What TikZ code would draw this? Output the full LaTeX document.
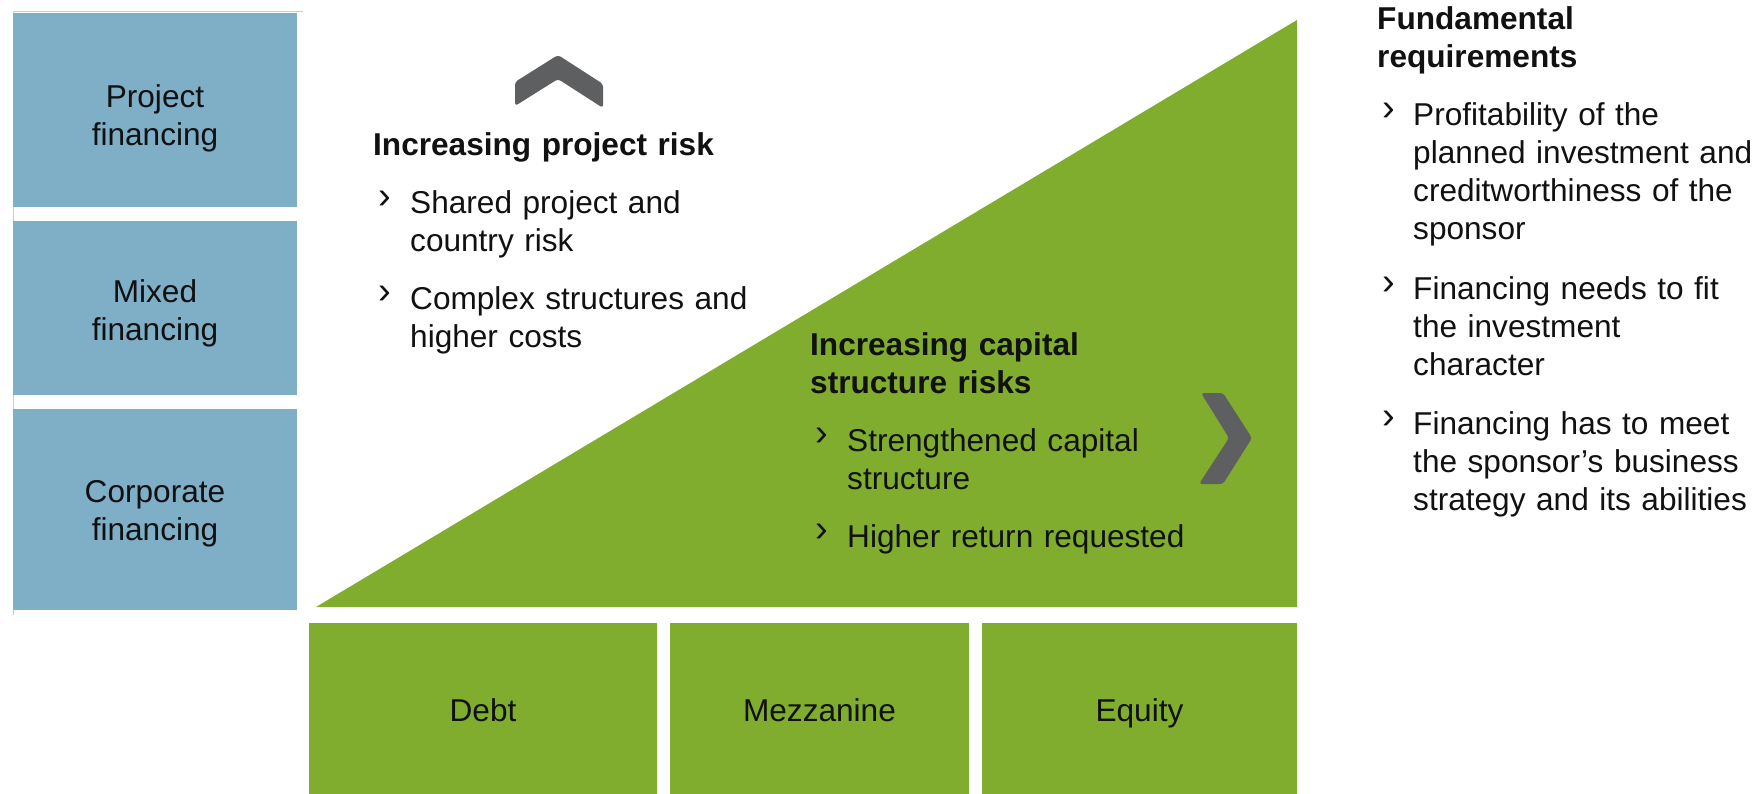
\documentclass[tikz,border=0pt]{standalone}
\usepackage{fontspec}
\setmainfont{Liberation Sans}
\definecolor{bluebox}{HTML}{7FAEC7}
\definecolor{bluefr}{HTML}{B9D2DF}
\definecolor{greenbox}{HTML}{80AD2D}
\definecolor{chev}{HTML}{5E5F61}
\definecolor{txt}{HTML}{111111}
\newcommand{\bmark}{\raisebox{5.5pt}{\fontsize{38}{38}\selectfont ›}}
\tikzset{
  every node/.style={text=txt, font=\fontsize{31.6}{38}\selectfont},
  bluecell/.style={fill=bluebox, draw=none, inner sep=0pt},
  greencell/.style={fill=greenbox, draw=none, inner sep=0pt},
  celllabel/.style={anchor=base, inner sep=0pt, align=center, text width=#1},
  txtblock/.style={anchor=base west, inner sep=0pt, align=left, text width=#1},
  bul/.style={anchor=base west, inner sep=0pt},
  headblock/.style={anchor=base west, inner sep=0pt, align=left, text width=#1,
    font=\fontsize{31.6}{38}\selectfont\bfseries},
  chevron/.style={fill=chev, rounded corners=3pt},
  framel/.style={draw=bluefr, line width=1pt},
}
\begin{document}
\begin{tikzpicture}[x=1pt, y=-1pt]
\useasboundingbox (0,0) rectangle (1756,794);
\fill[white] (0,0) rectangle (1756,794);

% left frame line
\coordinate (frA) at (303,12);
\coordinate (frB) at (13,12);
\coordinate (frC) at (13,615);
\draw[framel] (frA) -- (frB) -- (frC);

% blue boxes
\node[bluecell, minimum width=284pt, minimum height=194pt] (pf) at (155,110) {};
\node[bluecell, minimum width=284pt, minimum height=174pt] (mf) at (155,308) {};
\node[bluecell, minimum width=284pt, minimum height=201pt] (cf) at (155,509.5) {};
\node[celllabel=284pt] (pfl) at (155,108) {Project\\financing};
\node[celllabel=284pt] (mfl) at (155,302) {Mixed\\financing};
\node[celllabel=284pt] (cfl) at (155,502) {Corporate\\financing};

% triangle
\fill[greenbox] (316,607) -- (1297,20) -- (1297,607) -- cycle;

% bottom green boxes
\node[greencell, minimum width=348pt, minimum height=171pt] (debt) at (483,708.5) {};
\node[greencell, minimum width=299pt, minimum height=171pt] (mezz) at (819.5,708.5) {};
\node[greencell, minimum width=315pt, minimum height=171pt] (eq) at (1139.5,708.5) {};
\node[celllabel=300pt] (debtl) at (483,721) {Debt};
\node[celllabel=290pt] (mezzl) at (819.5,721) {Mezzanine};
\node[celllabel=300pt] (eql) at (1139.5,721) {Equity};

% chevrons
\fill[chevron] (515,82) -- (558,55) -- (603,84) -- (603,108) -- (558,79) -- (515,106) -- cycle;
\fill[chevron] (1201,393) -- (1223,393) -- (1252,438) -- (1223,484) -- (1199,484) -- (1229,438) -- cycle;

% project risk block
\node[headblock=450pt] (prh) at (373,156) {Increasing project risk};
\node[bul] (prb1) at (378,214) {\bmark};
\node[txtblock=400pt] (prt1) at (410,214) {Shared project and\\country risk};
\node[bul] (prb2) at (378,309) {\bmark};
\node[txtblock=400pt] (prt2) at (410,309) {Complex structures and\\higher costs};

% capital structure block
\node[headblock=400pt] (csh) at (810,355) {Increasing capital\\structure risks};
\node[bul] (csb1) at (815,451) {\bmark};
\node[txtblock=400pt] (cst1) at (847,451) {Strengthened capital\\structure};
\node[bul] (csb2) at (815,547) {\bmark};
\node[txtblock=400pt] (cst2) at (847,547) {Higher return requested};

% fundamental requirements block
\node[headblock=400pt] (frh) at (1377,30) {Fundamental\\requirements};
\node[bul] (frb1) at (1382,126) {\bmark};
\node[txtblock=400pt] (frt1) at (1413,126) {Profitability of the\\planned investment and\\creditworthiness of the\\sponsor};
\node[bul] (frb2) at (1382,300) {\bmark};
\node[txtblock=400pt] (frt2) at (1413,300) {Financing needs to fit\\the investment\\character};
\node[bul] (frb3) at (1382,434) {\bmark};
\node[txtblock=400pt] (frt3) at (1413,434) {Financing has to meet\\the sponsor’s business\\strategy and its abilities};
\end{tikzpicture}
\end{document}
